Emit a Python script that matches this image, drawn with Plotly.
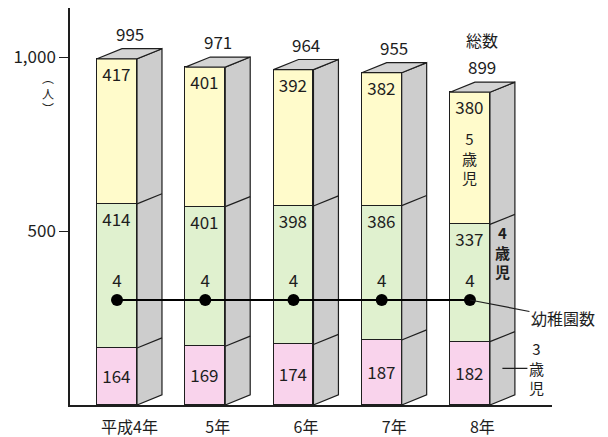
import plotly.graph_objects as go

categories = ["平成4年", "5年", "6年", "7年", "8年"]
age3 = [164, 169, 174, 187, 182]
age4 = [414, 401, 398, 386, 337]
age5 = [417, 401, 392, 382, 380]
totals = [995, 971, 964, 955, 899]
kindergartens = [4, 4, 4, 4, 4]

FONT = "Noto Sans CJK JP"
INK = "#1e1e1e"
W = 0.453   # larghezza faccia frontale
DX = 0.283  # profondità in x
DY = 29     # profondità in y

xs = list(range(len(categories)))

fig = go.Figure()

# facce frontali (barre impilate)
for vals, color, anchor in [(age3, "#f9d3ec", "middle"), (age4, "#e0f1cf", "end"), (age5, "#fffbcb", "end")]:
    fig.add_trace(go.Bar(x=xs, y=vals, width=W, marker=dict(color=color, line=dict(color=INK, width=1.2)),
                         text=[str(v) for v in vals], textposition="inside", insidetextanchor=anchor,
                         textangle=0, constraintext="none", textfont=dict(family=FONT, size=17, color=INK),
                         showlegend=False, hoverinfo="skip"))

# facce laterali e superiori
side_x, side_y, top_x, top_y, edge_x, edge_y = [], [], [], [], [], []
for i, t in enumerate(totals):
    r = i + W / 2
    side_x += [r, r + DX, r + DX, r, r, None]
    side_y += [0, DY, t + DY, t, 0, None]
    top_x += [i - W / 2, i - W / 2 + DX, r + DX, r, i - W / 2, None]
    top_y += [t, t + DY, t + DY, t, t, None]
    for b in (age3[i], age3[i] + age4[i]):
        edge_x += [r, r + DX, None]
        edge_y += [b, b + DY, None]

fig.add_trace(go.Scatter(x=side_x, y=side_y, mode="lines", fill="toself", fillcolor="#cdcdcd",
                         line=dict(color=INK, width=1.2), showlegend=False, hoverinfo="skip"))
fig.add_trace(go.Scatter(x=top_x, y=top_y, mode="lines", fill="toself", fillcolor="#d4d4d4",
                         line=dict(color=INK, width=1.2), showlegend=False, hoverinfo="skip"))
fig.add_trace(go.Scatter(x=edge_x, y=edge_y, mode="lines", line=dict(color=INK, width=1.2),
                         showlegend=False, hoverinfo="skip"))

# numero di asili
fig.add_trace(go.Scatter(x=xs, y=kindergartens, yaxis="y2", mode="lines+markers+text",
                         text=[str(v) for v in kindergartens], textposition="top center",
                         textfont=dict(family=FONT, size=17, color=INK),
                         marker=dict(color="black", size=12), line=dict(color="black", width=2),
                         showlegend=False, hoverinfo="skip"))

ann = []
for i, t in enumerate(totals):
    ann.append(dict(x=i + DX / 2, y=t + DY, xref="x", yref="y", text=str(t), showarrow=False,
                    yanchor="bottom", yshift=1, font=dict(family=FONT, size=17, color=INK)))
last = len(categories) - 1
ann.append(dict(x=last + DX / 2, y=totals[last] + DY, xref="x", yref="y", text="総数", showarrow=False,
                yanchor="bottom", yshift=28, font=dict(family=FONT, size=16, color=INK)))
ann.append(dict(x=last, y=age3[last] + age4[last] + age5[last] / 2, xref="x", yref="y",
                text="5<br>歳<br>児", showarrow=False, font=dict(family=FONT, size=15, color=INK)))
ann.append(dict(x=last + W / 2 + DX / 2, y=age3[last] + age4[last] * 0.72 + DY / 2, xref="x", yref="y",
                text="<b>4<br>歳<br>児</b>", showarrow=False, font=dict(family=FONT, size=15, color=INK)))
ann.append(dict(x=last + W / 2 + DX / 2, y=age3[last] / 2 + DY / 2, xref="x", yref="y",
                text="3<br>歳<br>児", showarrow=True, arrowhead=0, arrowwidth=1.2, arrowcolor=INK,
                ax=34, ay=0, standoff=0, font=dict(family=FONT, size=15, color=INK)))
ann.append(dict(x=last, y=kindergartens[last], xref="x", yref="y2", text="幼稚園数", showarrow=True,
                arrowhead=0, arrowwidth=1.2, arrowcolor=INK, ax=93, ay=18, standoff=0,
                font=dict(family=FONT, size=16, color=INK)))
# unità (人) in verticale sotto 1,000
ann.append(dict(x=0, y=1000, xref="paper", yref="y", text="︵<br>人<br>︶", showarrow=False,
                xanchor="center", yanchor="top", xshift=-22, yshift=-10,
                font=dict(family=FONT, size=12, color=INK)))

# la pagina html ha un margine di 8px: figura ridotta di conseguenza
fig.update_layout(
    width=592, height=429, barmode="stack", bargap=0, template="plotly_white",
    plot_bgcolor="white", paper_bgcolor="white",
    margin=dict(l=62, r=48, t=0, b=32, autoexpand=False),
    xaxis=dict(range=[-0.533, 4.93], tickvals=[i + DX / 2 for i in xs], ticktext=categories,
               ticks="outside", ticklen=7, tickcolor="rgba(0,0,0,0)", showline=True, linecolor=INK,
               automargin=False, linewidth=1.5, showgrid=False, zeroline=False,
               tickfont=dict(family=FONT, size=16, color=INK)),
    yaxis=dict(range=[0, 1141], tickvals=[500, 1000], ticktext=["500", "1,000"], ticks="outside",
               ticklen=9, tickcolor=INK, showline=True, linecolor=INK, linewidth=1.5, showgrid=False,
               zeroline=False, automargin=False, tickfont=dict(family=FONT, size=17, color=INK)),
    yaxis2=dict(overlaying="y", range=[0, 15.12], visible=False),
    annotations=ann,
)

fig.write_html("out.html")
